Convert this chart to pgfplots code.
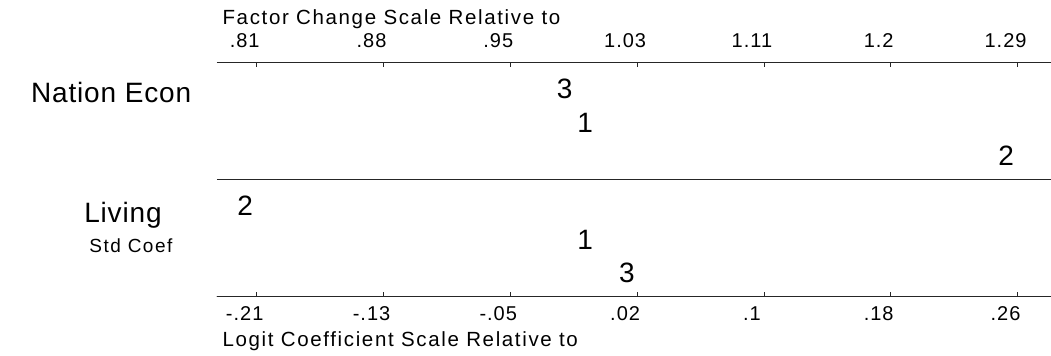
\documentclass[border=0pt]{standalone}
\usepackage{pgfplots}
\pgfplotsset{compat=1.18}
\usepackage{pgfplotstable}
\usepackage{fontspec}
\setmainfont{Liberation Sans}
\newfontfamily\fbig[LetterSpace=3]{Liberation Sans}
\newfontfamily\fmid[LetterSpace=8]{Liberation Sans}
\newfontfamily\ftick[LetterSpace=5]{Liberation Sans}

\pgfplotstableread{
x y lab
-0.0193 -0.8 3
-0.0068 -1.8 1
0.2510 -2.8 2
-0.2150 -4.3 2
-0.0068 -5.3 1
0.0188 -6.3 3
}\pts

\pgfplotsset{common/.style={
 scale only axis, width=834pt, height=234.7pt,
 xmin=-0.2323, xmax=0.2785, ymin=-7, ymax=0,
 hide y axis, clip=false,
 xtick={-0.208,-0.1303,-0.0527,0.025,0.1027,0.1803,0.258},
 tick align=inside, major tick length=4.5pt,
 axis line style={black!85, line width=0.9pt},
 every tick/.style={black!85, line width=0.9pt},
 xticklabel style={font=\ftick\fontsize{20}{22}\selectfont, anchor=base, inner sep=0pt, xshift=-12pt},
}}

\begin{document}
\begin{tikzpicture}
\begin{axis}[common,
  xtick pos=lower, xticklabel pos=lower,
  xticklabels={-.21,-.13,-.05,.02,.1,.18,.26},
  xticklabel style={yshift=-23.7pt}]
\addplot[draw=none, mark=none, nodes near coords, point meta=explicit symbolic,
  every node near coord/.append style={anchor=center, inner sep=0pt, font=\fontsize{28}{28}\selectfont, text=black}]
  table[x=x, y=y, meta=lab] {\pts};
\draw[black!85, line width=0.9pt] (axis cs:-0.2323,-3.5) -- (axis cs:0.2785,-3.5);
\node[anchor=base west, inner sep=0pt, font=\fmid\fontsize{20.5}{24}\selectfont] at (axis cs:-0.2290,1.12) {Factor Change Scale Relative to};
\node[anchor=base west, inner sep=0pt, font=\fmid\fontsize{20.5}{24}\selectfont] at (axis cs:-0.2290,-8.47) {Logit Coefficient Scale Relative to};
\node[anchor=base east, inner sep=0pt, font=\fbig\fontsize{28}{30}\selectfont] at (axis cs:-0.2480,-1.22) {Nation Econ};
\node[anchor=base, inner sep=0pt, font=\fbig\fontsize{28}{30}\selectfont] at (axis cs:-0.2899,-4.78) {Living};
\node[anchor=base, inner sep=0pt, font=\fmid\fontsize{19}{24}\selectfont] at (axis cs:-0.2850,-5.687) {Std Coef};
\coordinate (bbsw) at (axis cs:-0.3652,-8.746);
\coordinate (bbne) at (axis cs:0.2785,1.8507);
\end{axis}
\begin{axis}[common,
  xtick pos=upper, xticklabel pos=upper,
  xticklabels={.81,.88,.95,1.03,1.11,1.2,1.29},
  xticklabel style={yshift=15pt}]
\end{axis}
\pgfresetboundingbox
\path[use as bounding box] (bbsw) rectangle (bbne);
\end{tikzpicture}
\end{document}
